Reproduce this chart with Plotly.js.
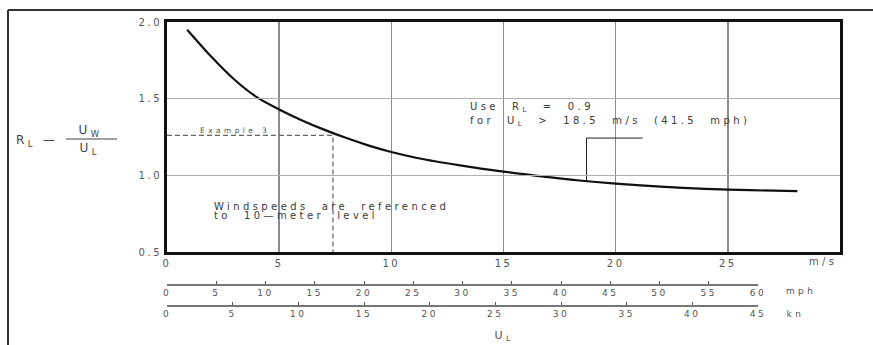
<!DOCTYPE html>
<html>
<head>
<meta charset="utf-8">
<script src="https://cdn.plot.ly/plotly-3.0.1.min.js"></script>
<style>
  html, body { margin: 0; padding: 0; background: #fff; }
  #chart { width: 873px; height: 345px; }
  #chart svg text { letter-spacing: 2.5px; }
  #chart svg text.annotation-text { letter-spacing: 3.4px; }
</style>
</head>
<body>
<div id="chart"></div>
<script>
// ---- data ----
const windMs = [0.9, 2, 3, 4, 5, 6, 7, 8, 9, 10, 11, 12, 13, 14, 15, 16, 17, 18, 19, 20, 22, 24, 26, 28.1];
const gustRatio = [1.95, 1.77, 1.625, 1.51, 1.43, 1.36, 1.298, 1.243, 1.194, 1.152, 1.118, 1.09, 1.066, 1.044, 1.024, 1.006, 0.988, 0.972, 0.958, 0.946, 0.926, 0.912, 0.903, 0.897];

const msTicks = [0, 5, 10, 15, 20, 25];
const rTicks = [0.5, 1.0, 1.5, 2.0];
const rTickText = ['0.5', '1.0', '1.5', '2.0'];
const mphTicks = [0, 5, 10, 15, 20, 25, 30, 35, 40, 45, 50, 55, 60];
const knTicks = [0, 5, 10, 15, 20, 25, 30, 35, 40, 45];

// Example 3 guide (U_L = 7.4 m/s, R_L = 1.26)
const exampleX = [0, 7.4, 7.4];
const exampleY = [1.26, 1.26, 0.5];

// leader for the "Use R_L = 0.9" note
const leaderX = [21.2, 18.7, 18.7];
const leaderY = [1.243, 1.243, 0.962];

const FONT = 'DejaVu Sans, sans-serif';
const TXT = '#3a3a3a';

const traces = [
  { x: exampleX, y: exampleY, mode: 'lines', line: { color: '#666', width: 1.2, dash: '5px,3px' }, hoverinfo: 'skip', showlegend: false },
  { x: leaderX, y: leaderY, mode: 'lines', line: { color: '#222', width: 1 }, hoverinfo: 'skip', showlegend: false },
  { x: windMs, y: gustRatio, mode: 'lines', line: { color: '#111', width: 2.2, shape: 'spline', smoothing: 0.9 }, hoverinfo: 'skip', showlegend: false },
  // carriers so that the mph and kn scales are drawn (no visible marks)
  { x: mphTicks, y: mphTicks.map(() => null), xaxis: 'x2', yaxis: 'y', mode: 'markers', hoverinfo: 'skip', showlegend: false },
  { x: knTicks, y: knTicks.map(() => null), xaxis: 'x3', yaxis: 'y', mode: 'markers', hoverinfo: 'skip', showlegend: false }
];

const L = 167, R = 33, T = 22, B = 0, W = 873, H = 345;
const pw = W - L - R, ph = H - T - B;
const px = v => (v - L) / pw;
const py = v => (H - B - v) / ph;

const layout = {
  width: W, height: H,
  margin: { l: L, r: R, t: T, b: B, pad: 0 },
  paper_bgcolor: '#fff', plot_bgcolor: 'rgba(0,0,0,0)',
  font: { family: FONT, size: 10, color: TXT },
  showlegend: false,
  xaxis: {
    domain: [0, 1], range: [0, 30], tickvals: msTicks, ticktext: msTicks.map(String),
    showgrid: true, gridcolor: '#8c8c8c', gridwidth: 1.5, zeroline: false,
    showline: true, linecolor: '#111', linewidth: 3, mirror: true,
    ticks: '', tickfont: { family: FONT, size: 10, color: '#555' }, anchor: 'y', fixedrange: true
  },
  yaxis: {
    domain: [py(252), 1], range: [0.5, 2.0], tickvals: rTicks, ticktext: rTickText,
    showgrid: true, gridcolor: '#b0b0b0', gridwidth: 1, zeroline: false,
    showline: true, linecolor: '#111', linewidth: 3, mirror: true,
    ticks: '', tickfont: { family: FONT, size: 10, color: '#555' }, anchor: 'x', fixedrange: true
  },
  xaxis2: {
    domain: [0, px(758)], range: [0, 60], tickvals: mphTicks, ticktext: mphTicks.map(String),
    anchor: 'free', position: py(284), showgrid: false, zeroline: false,
    showline: true, linecolor: '#777', linewidth: 1.5,
    ticks: 'inside', ticklen: 3, tickwidth: 1, tickcolor: '#555',
    tickfont: { family: FONT, size: 9, color: '#555' }, fixedrange: true
  },
  xaxis3: {
    domain: [0, px(758)], range: [0, 45], tickvals: knTicks, ticktext: knTicks.map(String),
    anchor: 'free', position: py(305), showgrid: false, zeroline: false,
    showline: true, linecolor: '#777', linewidth: 1.5,
    ticks: 'inside', ticklen: 3, tickwidth: 1, tickcolor: '#555',
    tickfont: { family: FONT, size: 9, color: '#555' }, fixedrange: true
  },
  shapes: [
    // outer frame
    { type: 'line', xref: 'paper', yref: 'paper', x0: px(8), x1: px(8), y0: py(10), y1: -0.02, line: { color: '#333', width: 2 } },
    { type: 'line', xref: 'paper', yref: 'paper', x0: px(8), x1: px(875), y0: py(10), y1: py(10), line: { color: '#333', width: 2 } },
    // fraction bar of R_L = U_W / U_L
    { type: 'line', xref: 'paper', yref: 'paper', x0: px(66), x1: px(117), y0: py(139), y1: py(139), line: { color: '#444', width: 1.2 } }
  ],
  annotations: [
    { xref: 'paper', yref: 'paper', x: px(14), y: py(141), xanchor: 'left', align: 'left', yanchor: 'middle', text: 'R<sub>L</sub> \u2014', showarrow: false, font: { size: 12, color: '#444' } },
    { xref: 'paper', yref: 'paper', x: px(90), y: py(131), xanchor: 'center', yanchor: 'middle', text: 'U<sub>W</sub>', showarrow: false, font: { size: 12, color: '#444' } },
    { xref: 'paper', yref: 'paper', x: px(90), y: py(149), xanchor: 'center', yanchor: 'middle', text: 'U<sub>L</sub>', showarrow: false, font: { size: 12, color: '#444' } },

    { xref: 'x', yref: 'y', x: 1.4, y: 1.29, xanchor: 'left', align: 'left', yanchor: 'middle', text: 'Example 3', showarrow: false, font: { size: 7.5, color: '#555' } },

    { xref: 'x', yref: 'y', x: 13.4, y: 1.44, xanchor: 'left', align: 'left', yanchor: 'middle', text: 'Use  R<sub>L</sub>  =  0.9', showarrow: false, font: { size: 10, color: TXT } },
    { xref: 'x', yref: 'y', x: 13.4, y: 1.35, xanchor: 'left', align: 'left', yanchor: 'middle', text: 'for  U<sub>L</sub>  >  18.5  m/s  (41.5  mph)', showarrow: false, font: { size: 10, color: TXT } },

    { xref: 'x', yref: 'y', x: 2.0, y: 0.80, xanchor: 'left', align: 'left', yanchor: 'middle', text: 'Windspeeds  are  referenced', showarrow: false, font: { size: 10, color: TXT } },
    { xref: 'x', yref: 'y', x: 2.0, y: 0.735, xanchor: 'left', align: 'left', yanchor: 'middle', text: 'to  10\u2014meter  level', showarrow: false, font: { size: 10, color: TXT } },

    { xref: 'paper', yref: 'paper', x: px(823), y: py(261), xanchor: 'center', yanchor: 'middle', text: 'm/s', showarrow: false, font: { size: 10, color: '#555' } },
    { xref: 'paper', yref: 'paper', x: px(801), y: py(291), xanchor: 'center', yanchor: 'middle', text: 'mph', showarrow: false, font: { size: 9, color: '#555' } },
    { xref: 'paper', yref: 'paper', x: px(795), y: py(314), xanchor: 'center', yanchor: 'middle', text: 'kn', showarrow: false, font: { size: 9, color: '#555' } },
    { xref: 'paper', yref: 'paper', x: px(504), y: py(336), xanchor: 'center', yanchor: 'middle', text: 'U<sub>L</sub>', showarrow: false, font: { size: 11, color: '#555' } }
  ]
};

Plotly.newPlot('chart', traces, layout, { displayModeBar: false, staticPlot: true });
</script>
</body>
</html>
